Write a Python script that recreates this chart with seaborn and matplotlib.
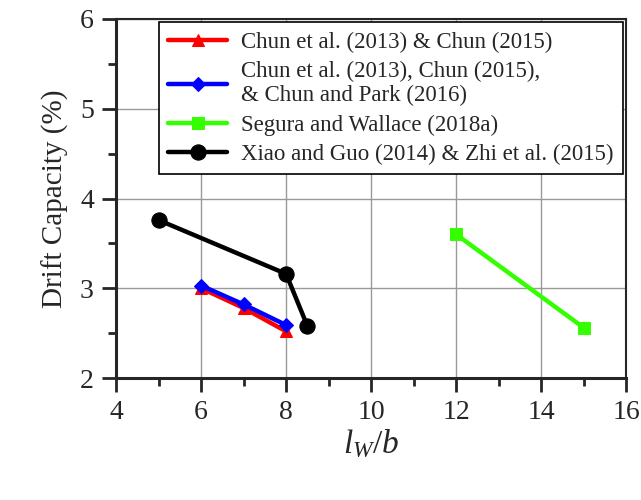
import matplotlib
matplotlib.use('Agg')

import matplotlib.pyplot as plt
import seaborn as sns
import pandas as pd
from matplotlib.ticker import MultipleLocator

# 数据
red_x = [6, 7, 8]
red_y = [3.00, 2.78, 2.52]
blue_x = [6, 7, 8]
blue_y = [3.03, 2.82, 2.59]
green_x = [12, 15]
green_y = [3.60, 2.56]
black_x = [5, 8, 8.5]
black_y = [3.76, 3.16, 2.58]

labels = [
    'Chun et al. (2013) & Chun (2015)',
    'Chun et al. (2013), Chun (2015),\n& Chun and Park (2016)',
    'Segura and Wallace (2018a)',
    'Xiao and Guo (2014) & Zhi et al. (2015)',
]

sns.set_style('ticks')
plt.rcParams['font.family'] = ['Liberation Serif', 'DejaVu Serif']
plt.rcParams['mathtext.fontset'] = 'custom'
plt.rcParams['mathtext.it'] = 'Liberation Serif:italic'
plt.rcParams['mathtext.rm'] = 'Liberation Serif'

fig = plt.figure(figsize=(6.41, 5.0), dpi=100)
ax = fig.add_axes([0.181, 0.244, 0.796, 0.718])

series = [
    (red_x, red_y, '#ff0000', '^', 9),
    (blue_x, blue_y, '#0000ff', 'D', 7),
    (green_x, green_y, '#33ff00', 's', 9),
    (black_x, black_y, '#000000', 'o', 11),
]
for (xs, ys, c, m, ms), lab in zip(series, labels):
    df = pd.DataFrame({'x': xs, 'y': ys})
    sns.lineplot(data=df, x='x', y='y', ax=ax, color=c, marker=m,
                 markersize=ms, markeredgecolor=c, linewidth=3.2,
                 label=lab, sort=False)

ax.set_xlim(4, 16)
ax.set_ylim(2, 6)
ax.xaxis.set_major_locator(MultipleLocator(2))
ax.xaxis.set_minor_locator(MultipleLocator(1))
ax.yaxis.set_major_locator(MultipleLocator(1))
ax.yaxis.set_minor_locator(MultipleLocator(0.5))
ax.grid(True, which='major', color='#999999', linewidth=1.0)
ax.tick_params(which='major', direction='out', length=10, width=2,
               labelsize=20, pad=6)
ax.tick_params(which='minor', direction='out', length=6, width=2)
for s in ['left', 'bottom']:
    ax.spines[s].set_linewidth(2.2)
for s in ['top', 'right']:
    ax.spines[s].set_linewidth(1.5)

ax.set_xlabel('$l_W/b$', fontsize=24, labelpad=2)
ax.set_ylabel('Drift Capacity (%)', fontsize=21, labelpad=8)

leg = ax.legend(loc='upper right', fontsize=16.5, frameon=True, fancybox=False,
                edgecolor='black', framealpha=1, handlelength=2.6,
                borderaxespad=0.15, labelspacing=0.35, handletextpad=0.6,
                borderpad=0.4)
leg.get_frame().set_linewidth(1.2)

plt.savefig('out.png', dpi=100)
plt.close()
